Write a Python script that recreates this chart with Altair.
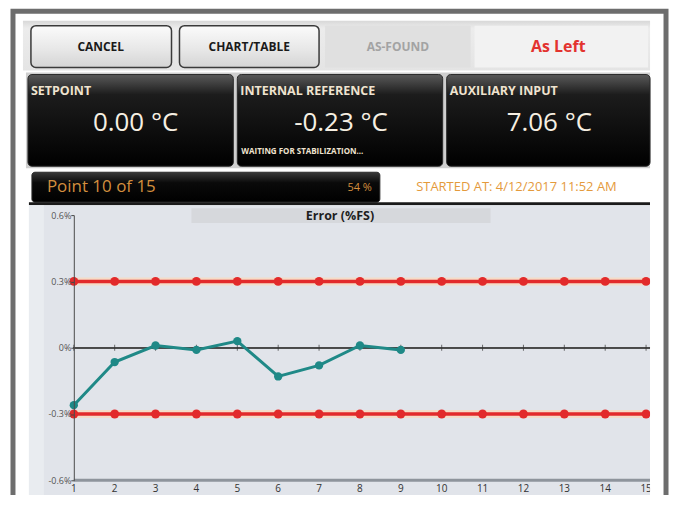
import altair as alt
import pandas as pd

# ---------------- data ----------------
points = list(range(1, 16))
measured_points = [1, 2, 3, 4, 5, 6, 7, 8, 9]
error_pct = [-0.26, -0.065, 0.01, -0.01, 0.03, -0.13, -0.08, 0.01, -0.01]
upper_limit = 0.3
lower_limit = -0.3
y_ticks = [-0.6, -0.3, 0.0, 0.3, 0.6]
y_tick_labels = ["-0.6%", "-0.3%", "0%", "0.3%", "0.6%"]

button_labels = ["CANCEL", "CHART/TABLE", "AS-FOUND", "As Left"]
panel_titles = ["SETPOINT", "INTERNAL REFERENCE", "AUXILIARY INPUT"]
panel_values = ["0.00 °C", "-0.23 °C", "7.06 °C"]
status_text = "WAITING FOR STABILIZATION..."
progress_text = "Point 10 of 15"
progress_pct = "54 %"
started_text = "STARTED AT: 4/12/2017 11:52 AM"
chart_title = "Error (%FS)"

# ---------------- layout (page pixels) ----------------
OX, OY = 74, 215          # plot origin on the page
W, H = 578, 266           # plot area size
FONT = "Open Sans"

err_df = pd.DataFrame({"point": measured_points, "value": error_pct})
lim_df = pd.DataFrame({
    "point": points + points,
    "value": [upper_limit] * len(points) + [lower_limit] * len(points),
    "limit": ["upper"] * len(points) + ["lower"] * len(points),
})
pts_df = pd.DataFrame({"point": points, "value": [0.0] * len(points)})

x_scale = alt.Scale(domain=[1, 1 + 14 * W / 574], nice=False, zero=False)
y_scale = alt.Scale(domain=[-0.6, 0.6], nice=False, zero=False)

label_expr = ""
for v, t in zip(y_ticks, y_tick_labels):
    label_expr += f"abs(datum.value - ({v})) < 1e-6 ? '{t}' : "
label_expr += "''"

ONE = alt.Data(values=[{}])


def rect(x0, y0, x1, y1, **kw):
    return alt.Chart(ONE).mark_rect(**kw).encode(
        x=alt.value(x0 - OX), x2=alt.value(x1 - OX),
        y=alt.value(y0 - OY), y2=alt.value(y1 - OY))


def label(x, y, txt, **kw):
    kw.setdefault("baseline", "middle")
    kw.setdefault("font", FONT)
    return alt.Chart(ONE).mark_text(text=txt, **kw).encode(
        x=alt.value(x - OX), y=alt.value(y - OY))


def grad(stops):
    return alt.LinearGradient(
        gradient="linear",
        stops=[alt.GradientStop(color=c, offset=o) for c, o in stops],
        x1=0, x2=0, y1=0, y2=1)


btn_fill = grad([("#fbfbfb", 0), ("#e6e6e6", 0.6), ("#d4d4d4", 1)])
panel_fill = grad([("#5a5a5a", 0), ("#1c1c1c", 0.22), ("#000000", 1)])
bar_fill = grad([("#3a3a3a", 0), ("#0a0a0a", 0.35), ("#000000", 1)])

layers = []
# outer frame
layers.append(rect(13, 10.5, 668, 540, fillOpacity=0, stroke="#6d6d6d", strokeWidth=5))
# header strip
layers.append(rect(23, 20, 652, 70, fill=grad([("#d8d8d8", 0), ("#ececec", 0.15), ("#e4e4e4", 1)])))
layers.append(rect(26, 72, 652, 168, fill="#cfcfcf"))
# buttons
layers.append(rect(31, 25, 172, 67, fill=btn_fill, stroke="#3a3a3a", strokeWidth=1.5, cornerRadius=5))
layers.append(rect(180, 25, 320, 67, fill=btn_fill, stroke="#3a3a3a", strokeWidth=1.5, cornerRadius=5))
layers.append(rect(326, 25, 472, 67, fill="#e0e0e0"))
layers.append(rect(476, 25, 650, 67, fill="#f2f2f2"))
layers.append(label(101, 46, button_labels[0], fontSize=12, fontWeight="bold", color="#1a1a1a", align="center"))
layers.append(label(250, 46, button_labels[1], fontSize=12, fontWeight="bold", color="#1a1a1a", align="center"))
layers.append(label(399, 46, button_labels[2], fontSize=12, fontWeight="bold", color="#a3a3a3", align="center"))
layers.append(label(560, 46, button_labels[3], fontSize=16, fontWeight="bold", color="#e3332f", align="center"))
# black panels
panels = [(28, 234), (238, 444), (448, 652)]
value_cx = [136, 342, 551]
for i, (a, b) in enumerate(panels):
    layers.append(rect(a, 74, b, 166, fill=panel_fill, stroke="#2a2a2a", strokeWidth=1, cornerRadius=4))
    layers.append(label(a + 3, 91, panel_titles[i], fontSize=12.5, fontWeight="bold", color="#efe3cf", align="left"))
    layers.append(label(value_cx[i], 123, panel_values[i], fontSize=26, color="#f6efe2", align="center"))
layers.append(label(242, 152, status_text, fontSize=8, fontWeight="bold", color="#efe3cf", align="left"))
# progress row
layers.append(rect(32, 172, 381, 202, fill=bar_fill, stroke="#2a2a2a", strokeWidth=1, cornerRadius=3))
layers.append(label(47, 187, progress_text, fontSize=17, color="#d48f3e", align="left"))
layers.append(label(373, 188, progress_pct, fontSize=11, color="#d48f3e", align="right"))
layers.append(label(518, 187, started_text, fontSize=13, color="#e49a3c", align="center"))
# chart background
layers.append(rect(29, 202, 652, 205, fill="#1a1a1a"))
layers.append(rect(29, 205, 652, 496, fill="#e1e4ea"))
layers.append(rect(29, 205, 44, 496, fill="#e9ecf0"))
layers.append(rect(192, 208, 492, 223, fill="#d6d8dc"))
layers.append(label(341, 216, chart_title, fontSize=12.5, fontWeight="bold", color="#1e1e1e", align="center"))

# ---------------- data layers ----------------
X = alt.X("point:Q", scale=x_scale, axis=None)
Y = alt.Y("value:Q", scale=y_scale, title=None, axis=alt.Axis(
    values=y_ticks, labelExpr=label_expr, grid=False, tickSize=3, tickColor="#444",
    domainColor="#4a4a4a", domainWidth=1, labelFontSize=9, labelColor="#555",
    labelFont=FONT, labelPadding=0, zindex=1, labelOverlap=False))

layers.append(alt.Chart(lim_df).mark_line(color="#f4dcc8", strokeWidth=8).encode(x=X, y=Y, detail="limit:N"))
layers.append(alt.Chart(lim_df).mark_line(color="#e22a2b", strokeWidth=3.5).encode(x=X, y=Y, detail="limit:N"))
layers.append(alt.Chart(lim_df).mark_circle(color="#e22a2b", size=80, opacity=1).encode(x=X, y=Y))
layers.append(alt.Chart(pts_df).mark_rule(color="#4a4a4a", strokeWidth=1).encode(y=Y))
layers.append(alt.Chart(pts_df).mark_tick(orient="vertical", size=6, thickness=1, color="#333").encode(x=X, y=Y))
layers.append(alt.Chart(err_df).mark_line(color="#1f8987", strokeWidth=3).encode(x=X, y=Y))
layers.append(alt.Chart(err_df).mark_circle(color="#1f8987", size=70, opacity=1).encode(x=X, y=Y))
# bottom axis line
layers.append(alt.Chart(pd.DataFrame({"value": [y_ticks[0]]})).mark_rule(color="#8e949c", strokeWidth=3).encode(y=Y))
# x tick labels
layers.append(alt.Chart(pts_df).mark_text(fontSize=10, color="#333", font=FONT, baseline="middle").encode(
    x=X, y=alt.value(490 - OY), text=alt.Text("point:Q", format="d")))
# right margin cover (chart clipped at the frame)
layers.append(rect(652, 200, 664, 500, fill="#ffffff"))

chart = alt.layer(*layers).properties(
    width=W, height=H,
    autosize=alt.AutoSizeParams(type="none"),
    padding={"left": OX - 8, "top": OY - 8, "right": 19, "bottom": 14},
    background="#ffffff",
).configure_view(strokeWidth=0)

chart.save("out.html", embed_options={"renderer": "svg", "actions": False})
